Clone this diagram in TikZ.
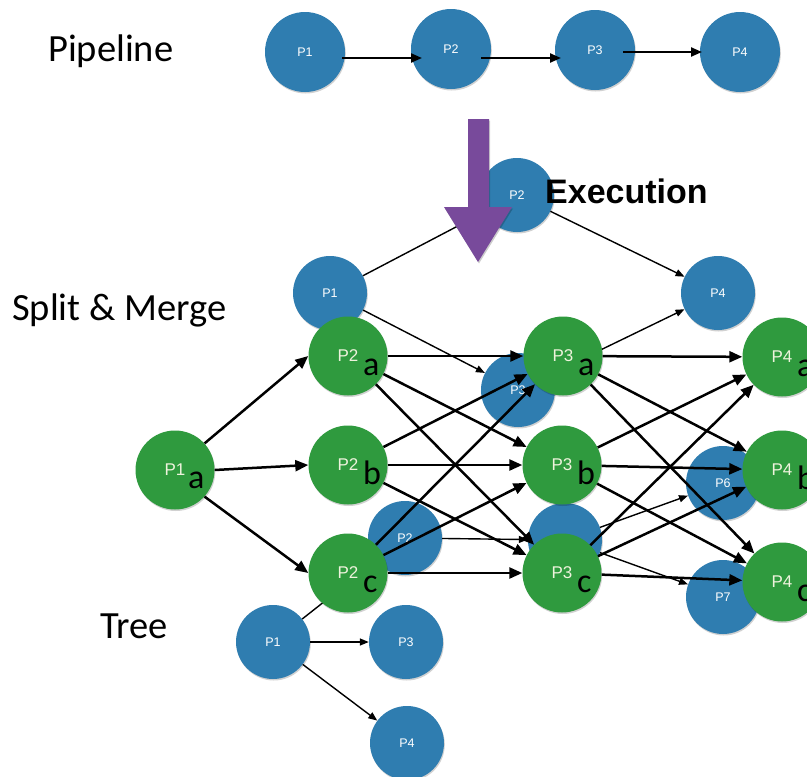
\documentclass[tikz,border=0pt]{standalone}
\usepackage{fontspec}
\setmainfont{Carlito}
\newfontfamily\helv{Liberation Sans}
\usetikzlibrary{arrows.meta,shadows}
\definecolor{procblue}{HTML}{2F7DB0}
\definecolor{procgreen}{HTML}{2F9A3E}
\definecolor{flowpurple}{HTML}{784A9B}
\definecolor{labelcream}{HTML}{EEF3DC}
\begin{document}
\begin{tikzpicture}[x=1pt,y=-1pt,
  softshadow/.style={general shadow={shadow xshift=0.8pt, shadow yshift=-1.5pt, fill=black, opacity=0.18}},
  bluenode/.style={circle, fill=procblue, minimum size=74pt, inner sep=0pt, text=white,
    font=\helv\fontsize{12.5}{12.5}\selectfont, softshadow},
  pipenode/.style={bluenode, minimum size=80pt},
  greennode/.style={circle, fill=procgreen, minimum size=79pt, inner sep=0pt, text=labelcream,
    font=\helv\fontsize{17}{17}\selectfont, softshadow},
  letter/.style={anchor=base west, inner sep=0pt, font=\fontsize{34}{34}\selectfont},
  heading/.style={anchor=base west, inner sep=0pt, font=\fontsize{38.5}{40}\selectfont},
  thinarrow/.style={line width=1.4pt, -{Triangle[length=9pt,width=7pt]}},
  thickarrow/.style={line width=2.5pt, -{Triangle[length=13pt,width=11pt]}},
  pipearrow/.style={line width=2.2pt, -{Triangle[length=11pt,width=9pt]}},
]
\useasboundingbox (0,0) rectangle (807,777);
\clip (0,0) rectangle (807,777);
\fill[white] (0,0) rectangle (807,777);

% headings
\node[heading] (hpipe) at (48,61) {Pipeline};
\node[heading] (hsplit) at (12,320) {Split \& Merge};
\node[heading] (htree) at (100,638) {Tree};

% pipeline
\node[pipenode] (pp1) at (305,52) {P1};
\node[pipenode] (pp2) at (451,49) {P2};
\node[pipenode] (pp3) at (595,50) {P3};
\node[pipenode] (pp4) at (740,52) {P4};
\draw[pipearrow] ([shift={(37,6)}]pp1.center) -- ([shift={(-29,9)}]pp2.center);
\draw[pipearrow] ([shift={(30,9)}]pp2.center) -- ([shift={(-34,8)}]pp3.center);
\draw[pipearrow] ([shift={(28,2)}]pp3.center) -- ([shift={(-38,0)}]pp4.center);

% blue graph: split & merge
\node[bluenode] (s1) at (330,293) {P1};
\node[bluenode] (s2) at (517,195) {P2};
\node[bluenode] (s3) at (518,390) {P3};
\node[bluenode] (s4) at (718,293) {P4};
\draw[thinarrow] (s1) -- (s2);
\draw[thinarrow] (s2) -- (s4);
\draw[thinarrow] (s1) -- (s3);
\draw[thinarrow] (s3) -- (s4);

% blue graph: tree
\node[bluenode] (t1) at (273,642) {P1};
\node[bluenode] (t2) at (405,538) {P2};
\node[bluenode] (t3) at (406,642) {P3};
\node[bluenode] (t4) at (407,743) {P4};
\node[bluenode] (t5) at (565,540) {P5};
\node[bluenode] (t6) at (723,483) {P6};
\node[bluenode] (t7) at (723,597) {P7};
\draw[thinarrow] (t1) -- (t2);
\draw[thinarrow] (t1) -- (t3);
\draw[thinarrow] (t1) -- (t4);
\draw[thinarrow] (t2) -- (t5);
\draw[thinarrow] (t5) -- (t6);
\draw[thinarrow] (t5) -- (t7);

% execution arrow
\fill[flowpurple, general shadow={shadow xshift=1pt, shadow yshift=-1.5pt, fill=black, opacity=0.2}]
  (468,119) -- (489,119) -- (489,207) -- (512,207) -- (478,262) -- (444,207) -- (468,207) -- cycle;
\node[anchor=base west, inner sep=0pt, font=\helv\bfseries\fontsize{34}{34}\selectfont] (exec) at (545,203) {Execution};

% green graph
\node[greennode] (g1a) at (175,470) {P1};
\node[greennode] (g2a) at (348,356) {P2};
\node[greennode] (g2b) at (348,465) {P2};
\node[greennode] (g2c) at (348,573) {P2};
\node[greennode] (g3a) at (563,356) {P3};
\node[greennode] (g3b) at (562,465) {P3};
\node[greennode] (g3c) at (562,573) {P3};
\node[greennode] (g4a) at (782,357) {P4};
\node[greennode] (g4b) at (782,470) {P4};
\node[greennode] (g4c) at (782,582) {P4};

\node[letter] (la1) at ([shift={(13,18)}]g1a.center) {a};
\foreach \n/\l in {g2a/a, g2b/b, g2c/c, g3a/a, g3b/b, g3c/c, g4a/a, g4b/b, g4c/c}
  \node[letter] (l\n) at ([shift={(15,19)}]\n.center) {\l};

\draw[thickarrow] (g1a.42) -- (g2a.west);
\draw[thickarrow] (g1a.east) -- (g2b.west);
\draw[thickarrow] (g1a.-42) -- (g2c.west);
\foreach \s in {g2a,g2b,g2c}
  \foreach \t in {g3a,g3b,g3c}
    \draw[thickarrow] (\s) -- (\t);
\foreach \s in {g3a,g3b,g3c}
  \foreach \t in {g4a,g4b,g4c}
    \draw[thickarrow] (\s) -- (\t);
\end{tikzpicture}
\end{document}
